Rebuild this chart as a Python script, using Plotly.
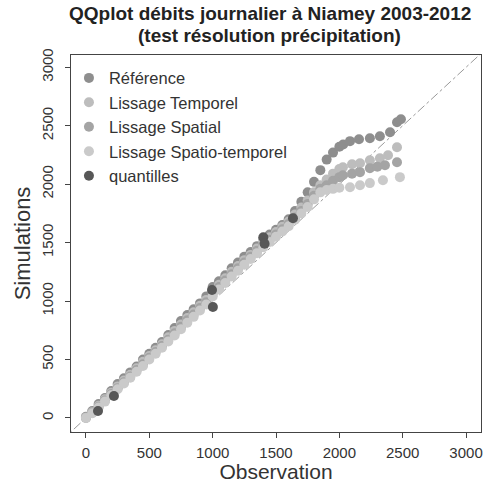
import plotly.graph_objects as go

# ---- data ----
ref_x = [0, 50, 100, 150, 200, 250, 300, 350, 400, 450, 500, 550, 600, 650, 700, 750, 800, 850, 900, 950,
         1000, 1050, 1100, 1150, 1200, 1250, 1300, 1350, 1400, 1450, 1500, 1550, 1600, 1650, 1700, 1750,
         1800, 1850, 1900, 1950, 2000, 2030, 2084, 2155, 2241, 2320, 2400, 2455, 2486]
ref_y = [10, 60, 120, 170, 230, 290, 340, 390, 440, 500, 550, 600, 650, 710, 770, 830, 880, 930, 980, 1040,
         1120, 1170, 1220, 1280, 1330, 1380, 1420, 1470, 1530, 1570, 1610, 1650, 1700, 1770, 1850, 1930,
         2020, 2120, 2210, 2270, 2320, 2340, 2368, 2385, 2393, 2410, 2444, 2530, 2556]

tmp_x = [0, 50, 100, 150, 200, 250, 300, 350, 400, 450, 500, 550, 600, 650, 700, 750, 800, 850, 900, 950,
         1000, 1050, 1100, 1150, 1200, 1250, 1300, 1350, 1400, 1450, 1500, 1550, 1600, 1650, 1700, 1750,
         1800, 1850, 1900, 1950, 2000, 2028, 2100, 2163, 2241, 2320, 2384, 2455]
tmp_y = [5, 50, 105, 160, 215, 270, 320, 370, 425, 480, 530, 580, 630, 690, 745, 800, 855, 905, 960, 1010,
         1080, 1140, 1195, 1250, 1300, 1350, 1395, 1450, 1500, 1545, 1590, 1635, 1680, 1740, 1800, 1860,
         1930, 1990, 2040, 2090, 2130, 2145, 2171, 2179, 2205, 2222, 2248, 2316]

spa_x = [0, 50, 100, 150, 200, 250, 300, 350, 400, 450, 500, 550, 600, 650, 700, 750, 800, 850, 900, 950,
         1000, 1050, 1100, 1150, 1200, 1250, 1300, 1350, 1400, 1450, 1500, 1550, 1600, 1650, 1700, 1750,
         1800, 1850, 1900, 1950, 2000, 2028, 2100, 2163, 2241, 2300, 2360, 2455]
spa_y = [0, 45, 95, 150, 205, 255, 305, 355, 410, 460, 515, 565, 615, 670, 725, 780, 835, 885, 940, 990,
         1060, 1120, 1175, 1230, 1280, 1330, 1380, 1430, 1480, 1525, 1570, 1615, 1660, 1715, 1770, 1830,
         1900, 1960, 1990, 2030, 2060, 2077, 2090, 2103, 2137, 2150, 2162, 2188]

spt_x = [0, 50, 100, 150, 200, 250, 300, 350, 400, 450, 500, 550, 600, 650, 700, 750, 800, 850, 900, 950,
         1000, 1050, 1100, 1150, 1200, 1250, 1300, 1350, 1400, 1450, 1500, 1550, 1600, 1650, 1700, 1750,
         1800, 1850, 1900, 1950, 2000, 2084, 2163, 2241, 2344, 2478]
spt_y = [0, 40, 90, 140, 195, 245, 295, 345, 395, 445, 500, 550, 600, 655, 705, 760, 815, 865, 920, 970,
         1040, 1100, 1155, 1210, 1260, 1310, 1360, 1410, 1460, 1505, 1550, 1595, 1640, 1695, 1750, 1805,
         1870, 1930, 1950, 1960, 1970, 1974, 1991, 2009, 2034, 2060]

q_x = [95, 221, 995, 1002, 1400, 1410, 1634]
q_y = [60, 188, 1094, 949, 1545, 1490, 1709]

diag = [-200, 3200]

x_ticks = [0, 500, 1000, 1500, 2000, 2500, 3000]
y_ticks = [0, 500, 1000, 1500, 2000, 2500, 3000]

names = ["Référence", "Lissage Temporel", "Lissage Spatial", "Lissage Spatio-temporel", "quantilles"]
colors = ["#8e8e8e", "#bdbdbd", "#a4a4a4", "#cacaca", "#575757"]
title_lines = ["QQplot débits journalier à Niamey 2003-2012", "(test résolution précipitation)"]

fig = go.Figure()
fig.add_trace(go.Scatter(x=diag, y=diag, mode="lines", showlegend=False,
                         line=dict(color="#9a9a9a", width=1, dash="dashdot"), hoverinfo="skip"))
series = [(ref_x, ref_y), (tmp_x, tmp_y), (spa_x, spa_y), (spt_x, spt_y), (q_x, q_y)]
for (xs, ys), nm, col in zip(series, names, colors):
    fig.add_trace(go.Scatter(x=xs, y=ys, mode="markers", name=nm,
                             marker=dict(color=col, size=10, line=dict(width=0))))

font_family = "Liberation Sans, Arial, Helvetica, sans-serif"
title_ann = [dict(text="<b>%s</b>" % t, xref="paper", yref="paper", x=0.485, y=yy,
                  xanchor="center", yanchor="middle", showarrow=False,
                  font=dict(size=19, color="#222222", family=font_family))
             for t, yy in zip(title_lines, [1.1088, 1.0504])]

fig.update_layout(
    width=484, height=483,
    margin=dict(l=71, r=3, t=55, b=51, autoexpand=False),
    paper_bgcolor="white", plot_bgcolor="white",
    font=dict(family=font_family, color="#333333"),
    legend=dict(x=-0.005, y=0.985, xanchor="left", yanchor="top", bgcolor="rgba(0,0,0,0)",
                font=dict(size=16.5, color="#333333"), itemwidth=30, tracegroupgap=0),
    showlegend=True,
    annotations=title_ann,
)
fig.update_xaxes(range=[-118, 3118], tickvals=x_ticks, ticks="outside", ticklen=5, tickcolor="#444",
                 showline=True, linecolor="#444", linewidth=1, mirror=True, showgrid=False, zeroline=False,
                 tickfont=dict(size=15), ticklabelstandoff=2,
                 title=dict(text="Observation", font=dict(size=21), standoff=0))
fig.update_yaxes(range=[-120, 3105], tickvals=y_ticks, ticks="outside", ticklen=5, tickcolor="#444",
                 showline=True, linecolor="#444", linewidth=1, mirror=True, showgrid=False, zeroline=False,
                 tickangle=-90, tickfont=dict(size=15), ticklabelstandoff=6,
                 title=dict(text="Simulations", font=dict(size=22), standoff=2))

fig.write_html("out.html", config={"displayModeBar": False},
               post_script="document.body.style.margin='0';document.body.style.overflow='hidden';")
